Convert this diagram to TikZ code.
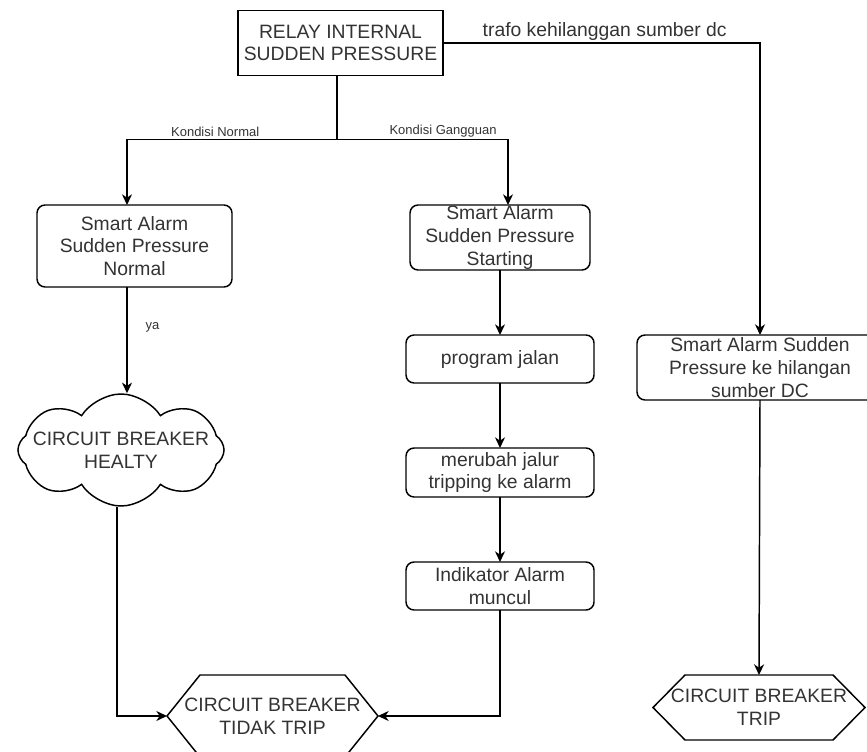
\documentclass[tikz,border=0pt]{standalone}
\usepackage{fontspec}
\setmainfont{Liberation Sans}
\usetikzlibrary{shapes.symbols, arrows.meta, positioning, calc}

\tikzset{
  box/.style={draw, line width=1.1pt, text=black!80, align=center, outer sep=0pt,
    font=\fontsize{14.5pt}{17pt}\selectfont},
  rbox/.style={box, rounded corners=6pt},
  hexa/.style={align=center, text=black!80, outer sep=0pt, inner ysep=0pt,
    font=\fontsize{14.5pt}{17pt}\selectfont},
  flow/.style={line width=1.1pt, -{Stealth[length=8pt,width=7.5pt,inset=2.5pt]}},
  link/.style={line width=1.1pt},
  lbl/.style={text=black!80, inner sep=1.5pt, font=\fontsize{9.75pt}{11pt}\selectfont},
  biglbl/.style={text=black!80, inner sep=1.5pt, font=\fontsize{14.5pt}{17pt}\selectfont},
}

\begin{document}
\begin{tikzpicture}[x=0.75pt, y=-0.75pt]
\useasboundingbox (0,0) rectangle (867,752);

% top relay
\node[box, minimum width=153.75pt, minimum height=48.75pt] (relay) at (340.5,43)
  {RELAY INTERNAL\\SUDDEN PRESSURE};

% left branch
\node[rbox, minimum width=146.25pt, minimum height=61.5pt] (normal) at (134.5,246)
  {Smart Alarm\\Sudden Pressure\\Normal};
\node[cloud, draw, line width=1.1pt, cloud puffs=8, cloud puff arc=115, cloud ignores aspect,
  inner xsep=-10pt, inner ysep=0pt, minimum width=120pt, minimum height=84pt, align=center,
  text=black!80, font=\fontsize{14.5pt}{17pt}\selectfont] (healty) at (121,450)
  {CIRCUIT BREAKER\\HEALTY};

% middle branch
\node[rbox, inner ysep=0pt, minimum width=135pt, minimum height=48.75pt] (starting) at (500,237.5)
  {Smart Alarm\\Sudden Pressure\\Starting};
\node[rbox, minimum width=141pt, minimum height=36pt] (program) at (500,359)
  {program jalan};
\node[rbox, inner ysep=0pt, minimum width=141pt, minimum height=36.75pt] (merubah) at (500,472.5)
  {merubah jalur\\tripping ke alarm};
\node[rbox, inner ysep=0pt, minimum width=141pt, minimum height=36pt] (indikator) at (500,586)
  {Indikator Alarm\\muncul};

% right branch
\node[rbox, inner ysep=0pt, minimum width=184.5pt, minimum height=48.75pt] (dc) at (760,367.5)
  {Smart Alarm Sudden\\Pressure ke hilangan\\sumber DC};

% end states
\node[hexa, minimum width=158.25pt, minimum height=61.5pt] (tidak) at (272.5,716)
  {CIRCUIT BREAKER\\TIDAK TRIP};
\draw[link] (tidak.west) -- ([xshift=24.75pt]tidak.north west) -- ([xshift=-24.75pt]tidak.north east)
  -- (tidak.east) -- ([xshift=-24.75pt]tidak.south east) -- ([xshift=24.75pt]tidak.south west) -- cycle;
\node[hexa, minimum width=159pt, minimum height=48.75pt] (trip) at (759,707.5)
  {CIRCUIT BREAKER\\TRIP};
\draw[link] (trip.west) -- ([xshift=24pt]trip.north west) -- ([xshift=-24pt]trip.north east)
  -- (trip.east) -- ([xshift=-24pt]trip.south east) -- ([xshift=24pt]trip.south west) -- cycle;

% connectors
\coordinate (split) at (337,139.5);
\coordinate (nl) at (127,139.5);
\coordinate (gl) at (508,139.5);
\draw[link] (relay.south -| split) -- (split);
\draw[flow] (split) -- node[lbl, above, pos=0.58] {Kondisi Normal} (nl) -- (nl |- normal.north);
\draw[flow] (split) -- node[lbl, above, pos=0.62] {Kondisi Gangguan} (gl) -- (gl |- starting.north);
\draw[flow] (relay.east) -- node[biglbl, above, pos=0.51] {trafo kehilanggan sumber dc}
  (relay.east -| dc.north) -- (dc.north);
\draw[flow] (normal.south -| nl) -- node[lbl, right=12pt, pos=0.38] {ya} (healty.north -| nl);
\draw[flow] (starting.south) -- (program.north);
\draw[flow] (program.south) -- (merubah.north);
\draw[flow] (merubah.south) -- (indikator.north);
\draw[flow] (indikator.south) |- (tidak.east);
\draw[flow] ([xshift=-3pt]healty.south) |- (tidak.west);
\draw[flow] (dc.south) -- (trip.north);
\end{tikzpicture}
\end{document}
